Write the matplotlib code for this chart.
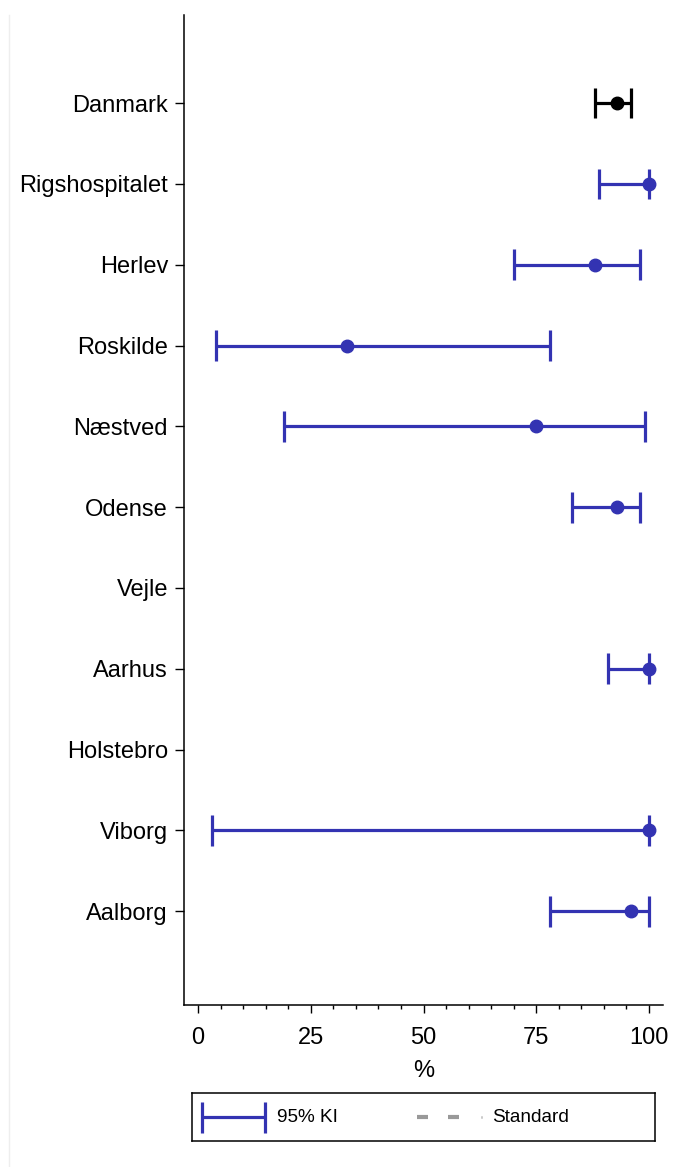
import numpy as np
import matplotlib
matplotlib.use('Agg')
import matplotlib.pyplot as plt
from matplotlib.lines import Line2D

plt.rcParams['font.family'] = ['Liberation Sans', 'DejaVu Sans']

# data: andel (%) med 95% KI, NaN = ingen data
enheder = ['Danmark', 'Rigshospitalet', 'Herlev', 'Roskilde', 'Næstved', 'Odense',
           'Vejle', 'Aarhus', 'Holstebro', 'Viborg', 'Aalborg']
andel = [93, 100, 88, 33, 75, 93, np.nan, 100, np.nan, 100, 96]
ki_lav = [88, 89, 70, 4, 19, 83, np.nan, 91, np.nan, 3, 78]
ki_hoj = [96, 100, 98, 78, 99, 98, np.nan, 100, np.nan, 100, 100]

blaa = '#3333b2'
W, H = 681, 1167
fig = plt.figure(figsize=(W / 100, H / 100), dpi=100)
fig.patch.set_facecolor('white')

ax = fig.add_axes([184 / W, 1 - 1005 / H, (663 - 184) / W, (1005 - 15) / H])
pos = np.arange(1, len(enheder) + 1)

for i, p in enumerate(pos):
    if np.isnan(andel[i]):
        continue
    c = 'black' if i == 0 else blaa
    ax.plot([ki_lav[i], ki_hoj[i]], [p, p], color=c, lw=2.3, solid_capstyle='butt', zorder=2)
    for v in (ki_lav[i], ki_hoj[i]):
        ax.plot([v, v], [p - 0.19, p + 0.19], color=c, lw=2.3, solid_capstyle='butt', zorder=2)
    ax.plot(andel[i], p, 'o', color=c, ms=9, zorder=3, clip_on=False)

ax.set_xlim(-3.1, 103.1)
ax.set_ylim(12.16, -0.09)
ax.set_yticks(pos)
ax.set_yticklabels(enheder, fontsize=17)
ax.set_xticks([0, 25, 50, 75, 100])
ax.set_xticks(np.arange(0, 101, 5), minor=True)
ax.tick_params(axis='x', labelsize=17, length=6, width=1, pad=10)
ax.tick_params(axis='x', which='minor', length=3, width=1)
ax.tick_params(axis='y', length=6.5, width=1, pad=5)
ax.set_xlabel('%', fontsize=17, labelpad=8)
for s in ['top', 'right']:
    ax.spines[s].set_visible(False)
for s in ['left', 'bottom']:
    ax.spines[s].set_linewidth(1.1)

# svag kant til venstre
fig.add_artist(Line2D([8.5 / W, 8.5 / W], [0, 1 - 15 / H], color='#eeeeee', lw=1))

# forklaring
lg = fig.add_axes([192 / W, 1 - 1141 / H, 463 / W, 48 / H])
lg.set_xlim(0, 463)
lg.set_ylim(48, 0)
lg.set_xticks([])
lg.set_yticks([])
for s in lg.spines.values():
    s.set_linewidth(1.1)
lg.plot([10, 73], [24, 24], color=blaa, lw=2.3, solid_capstyle='butt')
for v in (10, 73):
    lg.plot([v, v], [9, 40], color=blaa, lw=2.3, solid_capstyle='butt')
lg.text(85, 25, '95% KI', fontsize=13.7, va='center', ha='left')
lg.plot([225, 236], [24, 24], color='#999999', lw=3, solid_capstyle='butt')
lg.plot([256, 267], [24, 24], color='#999999', lw=3, solid_capstyle='butt')
lg.plot([288.5, 290], [24, 24], color='#999999', lw=1.8, solid_capstyle='butt')
lg.text(300, 25, 'Standard', fontsize=13.7, va='center', ha='left')

fig.savefig('out.png', dpi=100, facecolor='white')
